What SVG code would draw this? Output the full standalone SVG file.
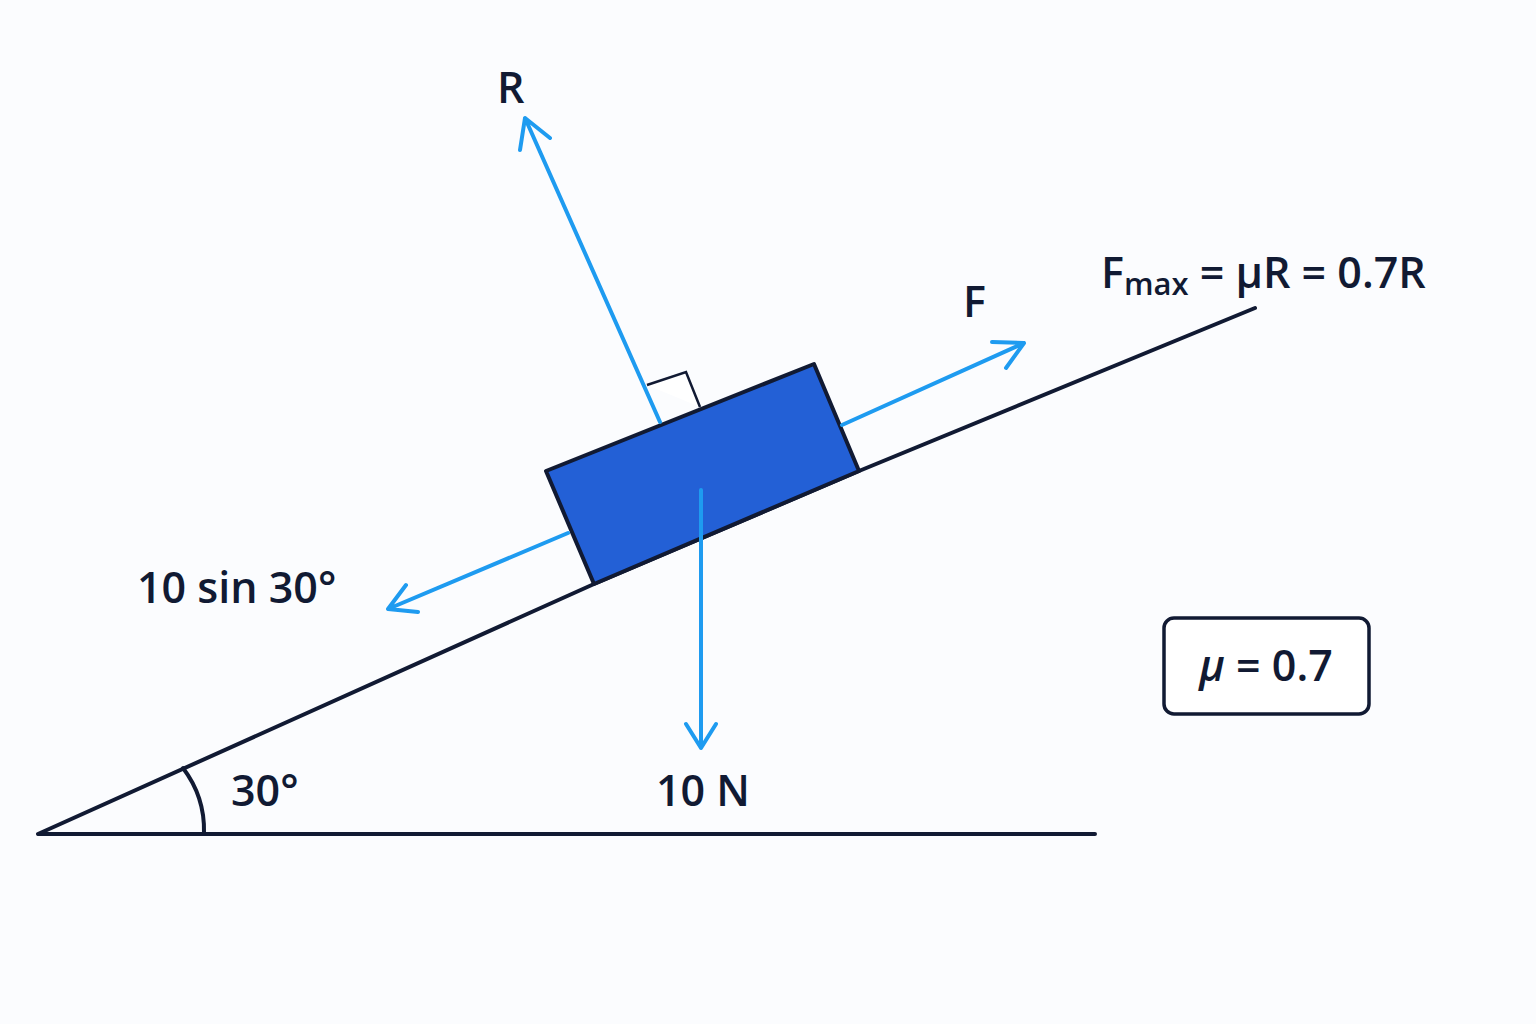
<svg xmlns="http://www.w3.org/2000/svg" width="1536" height="1024" viewBox="0 0 1536 1024">
<style>
.t{font-family:"Open Sans","Liberation Sans",sans-serif;fill:#111a33;font-size:43px;font-weight:600}
.k{stroke:#111a33;stroke-width:4;fill:none;stroke-linecap:round;stroke-linejoin:round}
.a{stroke:#1e9bf0;stroke-width:4;fill:none;stroke-linecap:round;stroke-linejoin:round}
</style>
<rect width="1536" height="1024" fill="#fbfcfe"/>
<g id="incline">
<path class="k" d="M38 834 L1095 834 M38 834 L594 584 L859 471 L1255 308"/>
<path class="k" d="M183 768 Q205 797 204 833" stroke-width="3"/>
</g>
<g id="block">
<path d="M647 385 L686 372 L700 407" fill="#fff" stroke="#111a33" stroke-width="2.5"/>
<polygon points="546,471 814,364 859,471 594,584" fill="#2360d6" stroke="#111a33" stroke-width="4" stroke-linejoin="round"/>
</g>
<g id="connectors">
<path class="a" d="M660 422 L525 118 M520 150 L525 118 L550 138"/>
<path class="a" d="M842 425 L1024 343 M992 342 L1024 343 L1006 368"/>
<path class="a" d="M568 533 L388 609 M406 585 L388 609 L418 612"/>
<path class="a" d="M701 490 L701 748 M686 724 L701 748 L716 724"/>
</g>
<g id="labels">
<text class="t" x="497" y="103">R</text>
<text class="t" x="963" y="317">F</text>
<text class="t" x="1101" y="288">F<tspan font-size="31" dy="7">max</tspan><tspan dy="-7"> = μR = 0.7R</tspan></text>
<text class="t" x="137" y="603">10 sin 30°</text>
<text class="t" x="231" y="806">30°</text>
<text class="t" x="656" y="806">10 N</text>
</g>
<g id="mu">
<rect x="1164" y="618" width="205" height="96" rx="10" fill="#fff" stroke="#111a33" stroke-width="3.5"/>
<text class="t" x="1266" y="681" text-anchor="middle"><tspan font-style="italic">μ</tspan> = 0.7</text>
</g>
</svg>
